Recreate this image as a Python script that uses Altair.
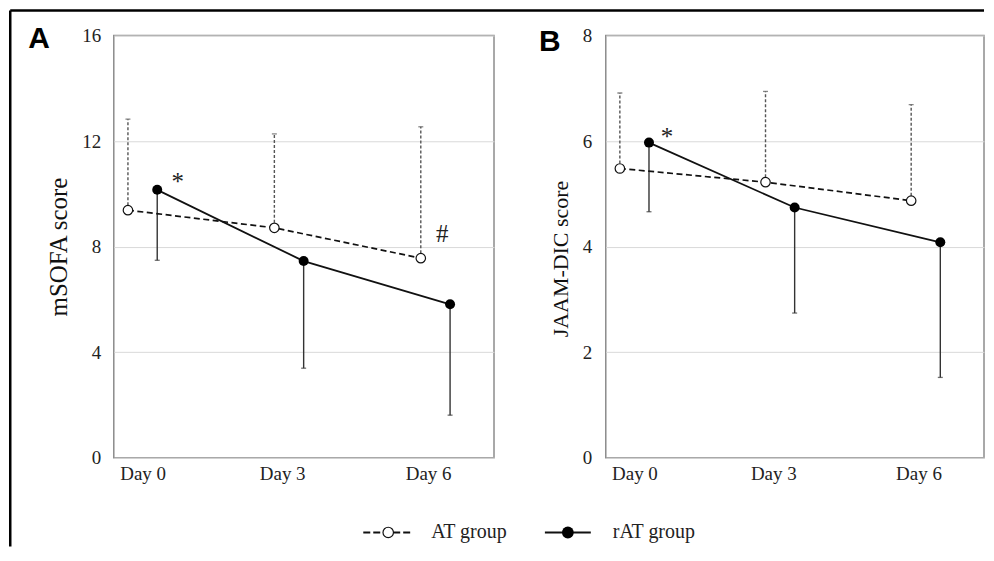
import altair as alt
import pandas as pd

# ---------------- data ----------------
days = [0, 3, 6]
groups = ["AT group", "rAT group"]
day_label_pos = [0.0, 2.86, 5.85]

# Panel A: mSOFA score (AT: mean + upper SD, rAT: mean + lower SD)
msofa_at_mean = [9.38, 8.71, 7.56]
msofa_at_upper = [12.83, 12.27, 12.54]
msofa_rat_mean = [10.15, 7.45, 5.81]
msofa_rat_lower = [7.48, 3.39, 1.61]

# Panel B: JAAM-DIC score
jaam_at_mean = [5.48, 5.22, 4.87]
jaam_at_upper = [6.91, 6.94, 6.69]
jaam_rat_mean = [5.97, 4.74, 4.08]
jaam_rat_lower = [4.66, 2.74, 1.52]

# significance marks
msofa_marks = ["*", "#"]
msofa_mark_day = [0.72, 6.14]
msofa_mark_val = [10.45, 8.47]
jaam_marks = ["*"]
jaam_mark_day = [0.67]
jaam_mark_val = [6.08]

SERIF = "Liberation Serif"
SANS = "Liberation Sans"
X_DOMAIN = [-0.59, 7.2]
H = 423


def build_df(at_mean, at_end, rat_mean, rat_end):
    rows = []
    for d, m, e in zip(days, at_mean, at_end):
        rows.append({"day": d, "group": groups[0], "mean": m, "end": e})
    for d, m, e in zip(days, rat_mean, rat_end):
        rows.append({"day": d, "group": groups[1], "mean": m, "end": e})
    return pd.DataFrame(rows)


def panel(df, marks_df, ymax, ystep, width, title, title_size, title_x, title_y,
          label_pad, letter, letter_x, letter_y, extra_layers=()):
    xenc = alt.X(
        "xpos:Q",
        scale=alt.Scale(domain=X_DOMAIN, nice=False, zero=False),
        axis=alt.Axis(
            values=day_label_pos,
            labelExpr="'Day ' + round(datum.value)",
            grid=False, ticks=False, domain=False, labelFlush=False,
            labelFont=SERIF, labelFontSize=19, labelColor="#222",
            labelPadding=7, title=None,
        ),
    )
    yscale = alt.Scale(domain=[0, ymax], nice=False, zero=True)
    yaxis = alt.Axis(
        values=list(range(0, ymax + 1, ystep)),
        grid=True, gridColor="#d9d9d9", gridWidth=1,
        ticks=False, domain=False, labelFlush=False,
        labelFont=SERIF, labelFontSize=19, labelColor="#222",
        labelPadding=label_pad,
        title=title, titleFont=SERIF, titleFontSize=title_size,
        titleFontWeight="normal", titleColor="#111",
        titleX=title_x, titleY=title_y, titleAngle=-90,
        titleAlign="center", titleBaseline="middle",
    )
    yenc = alt.Y("mean:Q", scale=yscale, axis=yaxis)
    yend = alt.Y("end:Q", scale=yscale, axis=yaxis)

    base = alt.Chart(df).transform_calculate(
        xpos=f"datum.day + (datum.group == '{groups[0]}' ? -0.3 : 0.3)"
    )
    at = base.transform_filter(f"datum.group == '{groups[0]}'")
    rat = base.transform_filter(f"datum.group == '{groups[1]}'")

    err_at = at.mark_rule(strokeDash=[3, 2], color="#555", strokeWidth=1.4).encode(
        x=xenc, y=yenc, y2="end:Q")
    cap_at = at.mark_tick(orient="horizontal", size=5, thickness=1.3, color="#555").encode(
        x=xenc, y=yend)
    err_rat = rat.mark_rule(color="#333", strokeWidth=1.4).encode(
        x=xenc, y=yenc, y2="end:Q")
    cap_rat = rat.mark_tick(orient="horizontal", size=5, thickness=1.3, color="#333").encode(
        x=xenc, y=yend)
    line_at = at.mark_line(strokeDash=[6, 3.5], color="#111", strokeWidth=1.7).encode(
        x=xenc, y=yenc)
    line_rat = rat.mark_line(color="#111", strokeWidth=1.8).encode(x=xenc, y=yenc)
    pt_at = at.mark_circle(fill="white", stroke="#111", strokeWidth=1.2, size=90,
                           opacity=1).encode(x=xenc, y=yenc)
    pt_rat = rat.mark_circle(color="#000", size=100, opacity=1).encode(x=xenc, y=yenc)

    anno = alt.Chart(marks_df).mark_text(
        font=SERIF, fontSize=25, align="center", baseline="middle", color="#222"
    ).encode(x=xenc, y=yenc, text="label:N")

    letter_txt = alt.Chart(pd.DataFrame({"t": [letter]})).mark_text(
        font=SANS, fontWeight="bold", fontSize=30, align="center",
        baseline="alphabetic", color="black"
    ).encode(x=alt.value(letter_x), y=alt.value(letter_y), text="t:N")

    layers = [err_at, cap_at, err_rat, cap_rat, line_at, line_rat, pt_at, pt_rat,
              anno, letter_txt] + list(extra_layers)
    return alt.layer(*layers).properties(width=width, height=H)


df_a = build_df(msofa_at_mean, msofa_at_upper, msofa_rat_mean, msofa_rat_lower)
df_b = build_df(jaam_at_mean, jaam_at_upper, jaam_rat_mean, jaam_rat_lower)
marks_a = pd.DataFrame({"label": msofa_marks, "xpos": msofa_mark_day, "mean": msofa_mark_val})
marks_b = pd.DataFrame({"label": jaam_marks, "xpos": jaam_mark_day, "mean": jaam_mark_val})

# ---- decorations: outer frame and legend (drawn in panel A's coordinate space) ----
one = pd.DataFrame({"a": [0]})
legend_df = pd.DataFrame({"label": groups})
frame_top = alt.Chart(one).mark_rule(color="black", strokeWidth=2.5).encode(
    x=alt.value(-103.75), x2=alt.value(872), y=alt.value(-25))
frame_left = alt.Chart(one).mark_rule(color="black", strokeWidth=2.5).encode(
    x=alt.value(-103.75), y=alt.value(-25), y2=alt.value(512))

LY = 498
leg_line_at = alt.Chart(one).mark_rule(color="#111", strokeWidth=1.8, strokeDash=[7, 3]).encode(
    x=alt.value(250), x2=alt.value(300), y=alt.value(LY))
leg_pt_at = alt.Chart(one).mark_circle(fill="white", stroke="#111", strokeWidth=1.2,
                                       size=110, opacity=1).encode(
    x=alt.value(275), y=alt.value(LY))
leg_txt_at = alt.Chart(legend_df).transform_filter(
    f"datum.label == '{groups[0]}'").mark_text(
    font=SERIF, fontSize=20, align="left", baseline="middle", color="#222").encode(
    x=alt.value(318), y=alt.value(LY), text="label:N")
leg_line_rat = alt.Chart(one).mark_rule(color="#111", strokeWidth=2).encode(
    x=alt.value(432), x2=alt.value(478), y=alt.value(LY))
leg_pt_rat = alt.Chart(one).mark_circle(color="#000", size=140, opacity=1).encode(
    x=alt.value(455), y=alt.value(LY))
leg_txt_rat = alt.Chart(legend_df).transform_filter(
    f"datum.label == '{groups[1]}'").mark_text(
    font=SERIF, fontSize=20, align="left", baseline="middle", color="#222").encode(
    x=alt.value(500), y=alt.value(LY), text="label:N")

panel_a = panel(df_a, marks_a, 16, 4, 381, "mSOFA score", 25, -55, H / 2, 13, "A", -75, 13,
                extra_layers=[frame_top, frame_left, leg_line_at, leg_pt_at, leg_txt_at,
                              leg_line_rat, leg_pt_rat, leg_txt_rat])
panel_b = panel(df_b, marks_b, 8, 2, 379, "JAAM-DIC score", 22, -45, H / 2 + 12, 14,
                "B", -56, 16)

chart = alt.hconcat(panel_a, panel_b, spacing=112, bounds="flush").properties(
    padding=0, background="white"
).configure_view(stroke="#8c8c8c", strokeWidth=1.5)

chart.save("out.html", embed_options={"renderer": "svg", "actions": False})
